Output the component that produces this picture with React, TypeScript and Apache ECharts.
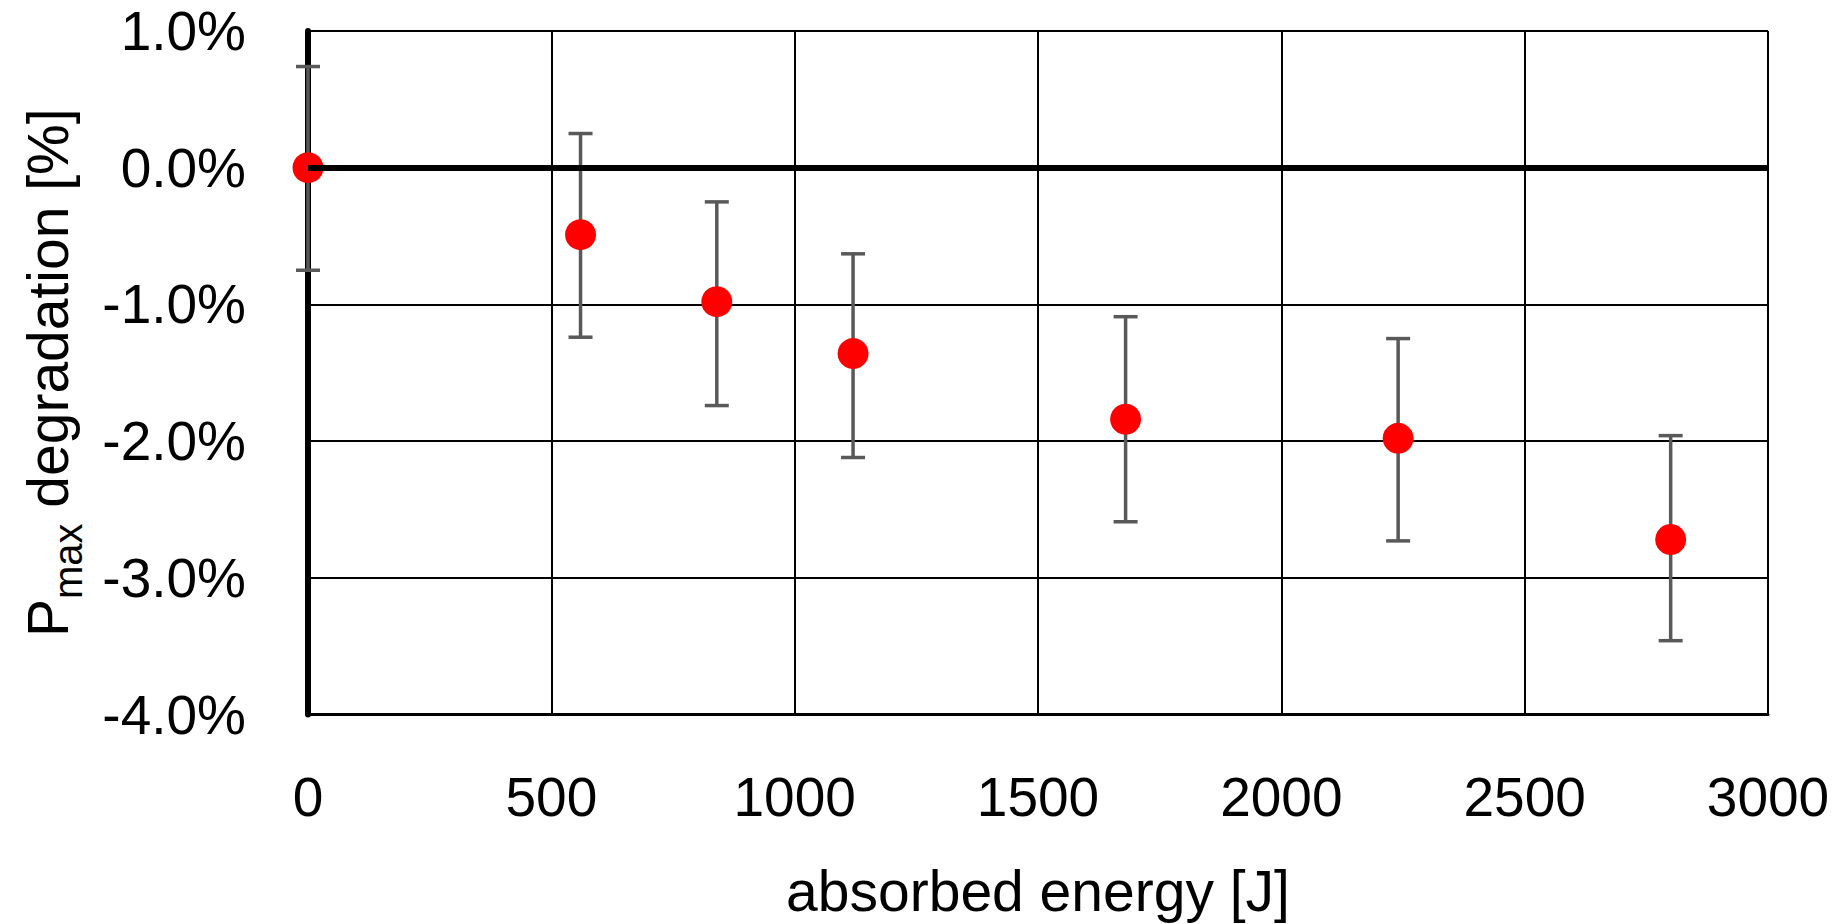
import React, { useEffect, useRef } from "react";
import * as echarts from "echarts";

// absorbed energy [J]
const energy = [0, 560, 840, 1120, 1680, 2240, 2800];
// Pmax degradation [%]
const degradation = [0.0, -0.49, -0.98, -1.36, -1.84, -1.98, -2.72];
// error bar ends [%]
const errHigh = [0.74, 0.25, -0.25, -0.63, -1.09, -1.25, -1.96];
const errLow = [-0.75, -1.24, -1.74, -2.12, -2.59, -2.73, -3.46];

const xMin = 0;
const xMax = 3000;
const xStep = 500;
const yMin = -4;
const yMax = 1;
const yStep = 1;

const FONT = "Liberation Sans";

export default function App() {
  const ref = useRef<HTMLDivElement>(null);

  useEffect(() => {
    if (!ref.current) return;
    const chart = echarts.init(ref.current, null, { renderer: "svg" });

    const option: any = {
      animation: false,
      backgroundColor: "#ffffff",
      grid: { left: 308, right: 74, top: 31, bottom: 208, containLabel: false },
      xAxis: {
        type: "value",
        min: xMin,
        max: xMax,
        interval: xStep,
        name: "absorbed energy [J]",
        nameLocation: "middle",
        nameGap: 156,
        nameTextStyle: { fontFamily: FONT, fontSize: 57, lineHeight: 40, color: "#000" },
        axisLine: { show: true, onZero: false, lineStyle: { color: "#000", width: 3 } },
        axisTick: { show: false },
        axisLabel: {
          fontFamily: FONT,
          fontSize: 55,
          color: "#000",
          margin: 55,
          formatter: (v: number) => String(v),
        },
        splitLine: { show: true, lineStyle: { color: "#000", width: 2 } },
      },
      yAxis: {
        type: "value",
        min: yMin,
        max: yMax,
        interval: yStep,
        name: "{p|P}{s|max}{t| degradation [%]}",
        nameLocation: "middle",
        nameRotate: 90,
        nameGap: 215,
        nameTextStyle: {
          fontFamily: FONT,
          color: "#000",
          rich: {
            p: { fontFamily: FONT, fontSize: 57, lineHeight: 90, verticalAlign: "middle", color: "#000" },
            s: {
              fontFamily: FONT,
              fontSize: 40,
              lineHeight: 40,
              padding: [40, 0, 0, 0],
              verticalAlign: "middle",
              color: "#000",
            },
            t: { fontFamily: FONT, fontSize: 57, lineHeight: 90, verticalAlign: "middle", color: "#000" },
          },
        },
        axisLine: { show: true, onZero: false, lineStyle: { color: "#000", width: 6 } },
        axisTick: { show: false },
        axisLabel: {
          fontFamily: FONT,
          fontSize: 55,
          lineHeight: 40,
          color: "#000",
          margin: 62,
          padding: [8, 0, 0, 0],
          formatter: (v: number) => v.toFixed(1) + "%",
        },
        splitLine: { show: true, lineStyle: { color: "#000", width: 2 } },
      },
      series: [
        {
          type: "custom",
          name: "error",
          z: 2,
          silent: true,
          data: energy.map((e, i) => [e, errHigh[i], errLow[i]]),
          renderItem: (params: any, api: any) => {
            const x = api.value(0);
            const top = api.coord([x, api.value(1)]);
            const bot = api.coord([x, api.value(2)]);
            const half = 12;
            const style = { stroke: "#595959", lineWidth: 3.5 };
            return {
              type: "group",
              children: [
                { type: "line", shape: { x1: top[0], y1: top[1], x2: bot[0], y2: bot[1] }, style },
                { type: "line", shape: { x1: top[0] - half, y1: top[1], x2: top[0] + half, y2: top[1] }, style },
                { type: "line", shape: { x1: bot[0] - half, y1: bot[1], x2: bot[0] + half, y2: bot[1] }, style },
              ],
            };
          },
        },
        {
          type: "line",
          name: "zero",
          z: 3,
          data: [],
          silent: true,
          markLine: {
            silent: true,
            symbol: ["none", "none"],
            label: { show: false },
            lineStyle: { color: "#000", width: 6, type: "solid" },
            data: [{ yAxis: 0 }],
          },
        },
        {
          type: "scatter",
          name: "Pmax degradation",
          z: 4,
          symbol: "circle",
          symbolSize: 31,
          itemStyle: { color: "#FF0000", opacity: 1 },
          data: energy.map((e, i) => [e, degradation[i]]),
        },
      ],
    };

    chart.setOption(option);
    return () => chart.dispose();
  }, []);

  return (
    <div
      ref={ref}
      style={{ position: "fixed", left: 0, top: 0, width: 1842, height: 924, background: "#fff" }}
    />
  );
}
